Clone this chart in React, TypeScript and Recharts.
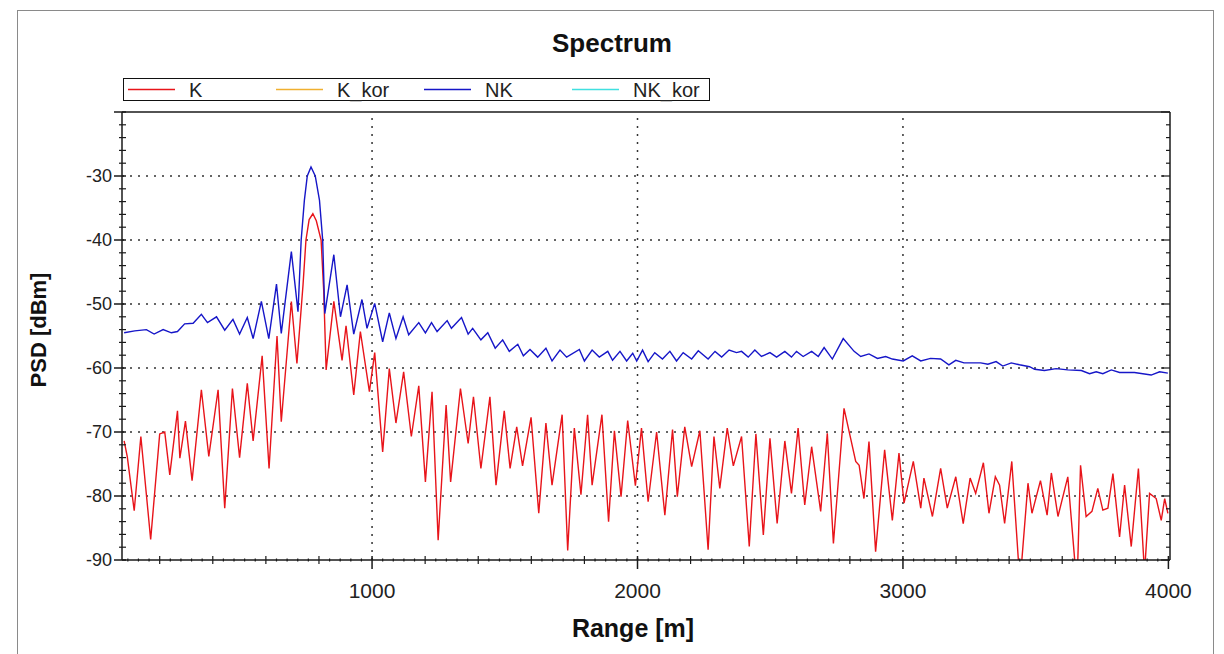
import React from "react";
import { LineChart, Line, XAxis, YAxis, ReferenceLine } from "recharts";

// K trace (red) - range [m] / PSD [dBm], read at the peaks and troughs
const kRange = [
  66, 78, 104, 129, 166, 200, 219, 238, 267, 276, 297, 322, 357, 385, 420, 445, 474, 501, 530, 552,
  586, 612, 642, 658, 696, 717, 740, 751, 763, 777, 790, 808, 818, 827, 856, 887, 902, 931, 956, 990,
  1010, 1040, 1065, 1090, 1119, 1148,
  1176, 1201, 1226, 1249, 1279, 1296, 1333, 1362, 1382, 1410, 1444, 1467, 1498, 1520, 1545, 1567, 1599, 1628, 1655, 1678,
  1716, 1737, 1762, 1787, 1812, 1829, 1866, 1891, 1913, 1938, 1963, 1992, 2015, 2040, 2072, 2103, 2132, 2150, 2178, 2204,
  2235, 2266, 2288, 2310, 2338, 2361, 2392, 2421, 2446, 2474, 2499, 2526, 2555, 2580, 2605, 2630, 2656, 2690, 2715, 2738,
  2778, 2822, 2835, 2853, 2872, 2897, 2931, 2960, 2985, 3004, 3039, 3067, 3079, 3111, 3142, 3167, 3199, 3227, 3253, 3274,
  3303, 3324, 3348, 3364, 3383, 3410, 3438, 3446, 3471, 3486, 3518, 3543, 3559, 3584, 3621, 3650, 3658, 3669, 3690, 3712,
  3734, 3753, 3772, 3791, 3816, 3835, 3860, 3887, 3910, 3929, 3954, 3973, 3986, 3998,
];
const kPsd = [
  -71.4, -73.9, -82.3, -70.7, -86.8, -70.3, -70.0, -76.7, -66.7, -74.1, -68.3, -77.6, -63.4, -73.8, -63.4, -81.9, -63.2, -74.0, -62.4, -71.4,
  -58.1, -75.7, -55.0, -68.4, -49.6, -59.3, -47.0, -40.0, -36.8, -35.9, -37.0, -40.0, -48.0, -60.3, -49.6, -58.8, -53.4, -64.2, -54.3, -63.7,
  -57.6, -73.1, -60.1, -68.6, -60.6, -70.7,
  -62.8, -77.8, -63.7, -86.9, -65.8, -77.8, -63.2, -71.8, -64.5, -75.7, -64.5, -78.3, -66.7, -75.7, -69.2, -75.3, -67.7, -82.7, -68.6, -78.3,
  -67.3, -88.5, -69.4, -79.8, -67.3, -78.3, -67.3, -84.0, -69.8, -80.1, -68.2, -78.4, -69.4, -80.9, -70.0, -83.0, -69.6, -80.1, -69.2, -75.4,
  -69.8, -88.4, -70.7, -78.8, -69.4, -75.3, -70.7, -87.9, -70.3, -86.1, -71.0, -84.3, -71.4, -79.6, -69.4, -81.4, -72.3, -82.4, -70.2, -87.4,
  -66.3, -74.6, -75.2, -80.4, -71.5, -88.7, -72.8, -83.8, -73.3, -81.1, -74.6, -81.9, -77.2, -83.2, -75.7, -81.9, -77.0, -84.3, -77.2, -79.6,
  -74.8, -82.7, -77.0, -78.3, -84.3, -74.6, -92.0, -91.0, -78.0, -82.7, -77.6, -83.0, -76.4, -83.2, -77.0, -91.5, -91.0, -75.2, -83.2, -82.4,
  -78.8, -82.2, -81.9, -76.5, -86.4, -78.3, -87.9, -75.7, -92.0, -79.6, -80.4, -83.8, -80.4, -82.7,
];

// NK trace (blue)
const nkRange = [
  66, 106, 150, 179, 213, 244, 267, 294, 326, 357, 380, 414, 445, 476, 501, 530, 552, 583, 611, 640,
  658, 696, 721, 733, 745, 756, 770, 786, 802, 814, 822, 856, 881, 906, 931, 962, 981, 1010, 1040, 1065,
  1090, 1117, 1138, 1176, 1201, 1224,
  1245, 1283, 1299, 1337, 1362, 1379, 1410, 1436, 1464, 1492, 1517, 1549, 1570, 1595, 1624, 1655, 1678, 1708, 1733, 1781,
  1800, 1829, 1856, 1888, 1906, 1934, 1959, 1982, 1997, 2019, 2040, 2065, 2094, 2122, 2147, 2172, 2204, 2229, 2266, 2292,
  2317, 2345, 2373, 2392, 2417, 2442, 2467, 2499, 2524, 2555, 2580, 2599, 2624, 2656, 2681, 2703, 2734, 2775, 2816, 2841,
  2872, 2904, 2935, 2960, 3001, 3035, 3067, 3104, 3142, 3173, 3199, 3230, 3293, 3320, 3351, 3376, 3408, 3439, 3477, 3496,
  3533, 3577, 3621, 3672, 3703, 3728, 3753, 3785, 3816, 3872, 3935, 3967, 3998,
];
const nkPsd = [
  -54.5, -54.2, -54.0, -54.7, -54.0, -54.5, -54.3, -53.1, -53.0, -51.6, -52.9, -52.0, -54.1, -52.4, -54.7, -52.1, -55.4, -49.6, -55.4, -46.9,
  -54.6, -41.8, -51.2, -40.0, -33.8, -30.0, -28.6, -30.0, -33.8, -40.0, -51.5, -42.3, -52.0, -47.0, -54.7, -49.3, -53.8, -49.9, -55.9, -51.4,
  -55.4, -52.0, -54.8, -52.9, -54.5, -52.9,
  -54.3, -52.6, -53.8, -52.1, -54.7, -53.8, -55.6, -54.5, -56.9, -55.6, -57.4, -56.3, -58.1, -57.1, -58.3, -56.9, -58.9, -57.2, -58.3, -57.1,
  -58.9, -57.2, -58.3, -57.4, -58.8, -57.4, -58.9, -57.7, -58.9, -57.2, -59.0, -57.6, -58.6, -57.4, -58.9, -57.6, -58.6, -57.3, -58.6, -57.4,
  -58.3, -57.2, -57.6, -57.4, -58.3, -57.2, -58.2, -57.6, -58.3, -57.4, -58.3, -57.4, -58.2, -57.4, -58.2, -56.8, -58.6, -55.4, -57.4, -58.2,
  -57.8, -58.5, -58.2, -58.6, -58.9, -58.1, -58.9, -58.5, -58.6, -59.5, -58.8, -59.2, -59.2, -59.4, -59.0, -59.7, -59.2, -59.5, -59.8, -60.2,
  -60.4, -60.1, -60.3, -60.4, -60.9, -60.6, -60.9, -60.3, -60.7, -60.7, -61.1, -60.6, -60.8,
];

const xLabels = [1000, 2000, 3000, 4000];
const yLabels = [-30, -40, -50, -60, -70, -80, -90];
const legendItems = [
  { name: "K", color: "#e8141a" },
  { name: "K_kor", color: "#f0b030" },
  { name: "NK", color: "#1616c8" },
  { name: "NK_kor", color: "#40e0e0" },
];

const kData = kRange.map((r, i) => ({ range: r, psd: kPsd[i] }));
const nkData = nkRange.map((r, i) => ({ range: r, psd: nkPsd[i] }));

// axis tick positions: small every 40 m / 2 dB
const xTicks = Array.from({ length: 99 }, (_, i) => 80 + i * 40);
const yTicks = Array.from({ length: 36 }, (_, i) => -90 + i * 2);

const FONT = "'Liberation Sans', Arial, sans-serif";
const AXIS = "#1a1a1a";

function BottomTick(props: any) {
  const { x, y, payload } = props;
  const v = payload.value;
  if (v % 1000 === 0) {
    return (
      <g>
        <line x1={x} x2={x} y1={y - 4} y2={y + 9} stroke={AXIS} strokeWidth={1.5} />
        <text x={x} y={y + 38} textAnchor="middle" fontSize={21} fontFamily={FONT} fill="#222">
          {xLabels.includes(v) ? v : ""}
        </text>
      </g>
    );
  }
  const len = v % 200 === 0 ? 4 : 1.5;
  return <line x1={x} x2={x} y1={y - len} y2={y + len} stroke={AXIS} strokeWidth={1.2} />;
}

function TopTick(props: any) {
  const { x, y, payload } = props;
  const v = payload.value;
  const len = v % 1000 === 0 ? 9 : v % 200 === 0 ? 5 : 2;
  return <line x1={x} x2={x} y1={y} y2={y + len} stroke={AXIS} strokeWidth={1.2} />;
}

function LeftTick(props: any) {
  const { x, y, payload } = props;
  const v = payload.value;
  if (v % 10 === 0) {
    return (
      <g>
        <line x1={x - 8} x2={x + 4} y1={y} y2={y} stroke={AXIS} strokeWidth={1.5} />
        <text x={x - 10} y={y} dy="0.36em" textAnchor="end" fontSize={18} fontFamily={FONT} fill="#222">
          {yLabels.includes(v) ? v : ""}
        </text>
      </g>
    );
  }
  return <line x1={x - 3} x2={x + 4} y1={y} y2={y} stroke={AXIS} strokeWidth={1.2} />;
}

function RightTick(props: any) {
  const { x, y, payload } = props;
  const len = payload.value % 10 === 0 ? 9 : 4;
  return <line x1={x - len} x2={x} y1={y} y2={y} stroke={AXIS} strokeWidth={1.2} />;
}

export default function App() {
  const axisLine = { stroke: AXIS, strokeWidth: 1.5 };
  return (
    <div style={{ position: "absolute", left: 0, top: 0, width: 1224, height: 654, background: "#fff", overflow: "hidden" }}>
      <LineChart width={1224} height={654} margin={{ top: 102, right: 44, left: 62, bottom: 54 }}>
        <XAxis
          xAxisId="b"
          type="number"
          dataKey="range"
          domain={[58, 4006]}
          allowDataOverflow
          ticks={xTicks}
          interval={0}
          tickSize={0}
          tickMargin={0}
          tickLine={false}
          height={40}
          axisLine={axisLine}
          tick={(p: any) => <BottomTick {...p} />}
        />
        <XAxis
          xAxisId="t"
          orientation="top"
          type="number"
          domain={[58, 4006]}
          allowDataOverflow
          ticks={xTicks}
          interval={0}
          tickSize={0}
          tickMargin={0}
          tickLine={false}
          height={10}
          axisLine={axisLine}
          tick={(p: any) => <TopTick {...p} />}
        />
        <YAxis
          yAxisId="l"
          type="number"
          domain={[-90, -20]}
          allowDataOverflow
          ticks={yTicks}
          interval={0}
          tickSize={0}
          tickMargin={0}
          tickLine={false}
          width={60}
          axisLine={axisLine}
          tick={(p: any) => <LeftTick {...p} />}
        />
        <YAxis
          yAxisId="r"
          orientation="right"
          type="number"
          domain={[-90, -20]}
          allowDataOverflow
          ticks={yTicks}
          interval={0}
          tickSize={0}
          tickMargin={0}
          tickLine={false}
          width={10}
          axisLine={axisLine}
          tick={(p: any) => <RightTick {...p} />}
        />
        {xLabels.slice(0, 3).map((v) => (
          <ReferenceLine key={"gx" + v} xAxisId="b" yAxisId="l" x={v} stroke="#333" strokeWidth={1.5} strokeDasharray="2 6" />
        ))}
        {yLabels.slice(0, 6).map((v) => (
          <ReferenceLine key={"gy" + v} xAxisId="b" yAxisId="l" y={v} stroke="#333" strokeWidth={1.5} strokeDasharray="2 6" />
        ))}
        <Line
          xAxisId="b"
          yAxisId="l"
          data={kData}
          dataKey="psd"
          name="K"
          type="linear"
          stroke="#e8141a"
          strokeWidth={1.4}
          dot={false}
          isAnimationActive={false}
        />
        <Line
          xAxisId="b"
          yAxisId="l"
          data={nkData}
          dataKey="psd"
          name="NK"
          type="linear"
          stroke="#1616c8"
          strokeWidth={1.4}
          dot={false}
          isAnimationActive={false}
        />
      </LineChart>

      <svg
        width={1224}
        height={654}
        style={{ position: "absolute", left: 0, top: 0, pointerEvents: "none" }}
        fontFamily={FONT}
      >
        <rect x={17.5} y={10.5} width={1196} height={700} fill="none" stroke="#8a8a8a" />
        <text x={612} y={52} textAnchor="middle" fontSize={26} fontWeight="bold" fill="#111">
          Spectrum
        </text>
        <text x={633} y={637} textAnchor="middle" fontSize={25} fontWeight="bold" fill="#111">
          Range [m]
        </text>
        <text
          x={46}
          y={330}
          textAnchor="middle"
          fontSize={22}
          fontWeight="bold"
          fill="#111"
          transform="rotate(-90 46 330)"
        >
          PSD [dBm]
        </text>
        <rect x={123.5} y={78.5} width={586} height={22} fill="#fff" stroke="#111" />
        {legendItems.map((it, i) => {
          const lx = 128 + i * 148;
          return (
            <g key={it.name}>
              <line x1={lx} x2={lx + 47} y1={89.5} y2={89.5} stroke={it.color} strokeWidth={1.5} />
              <text x={lx + 61} y={97} fontSize={20} fill="#222">
                {it.name}
              </text>
            </g>
          );
        })}
      </svg>
    </div>
  );
}
